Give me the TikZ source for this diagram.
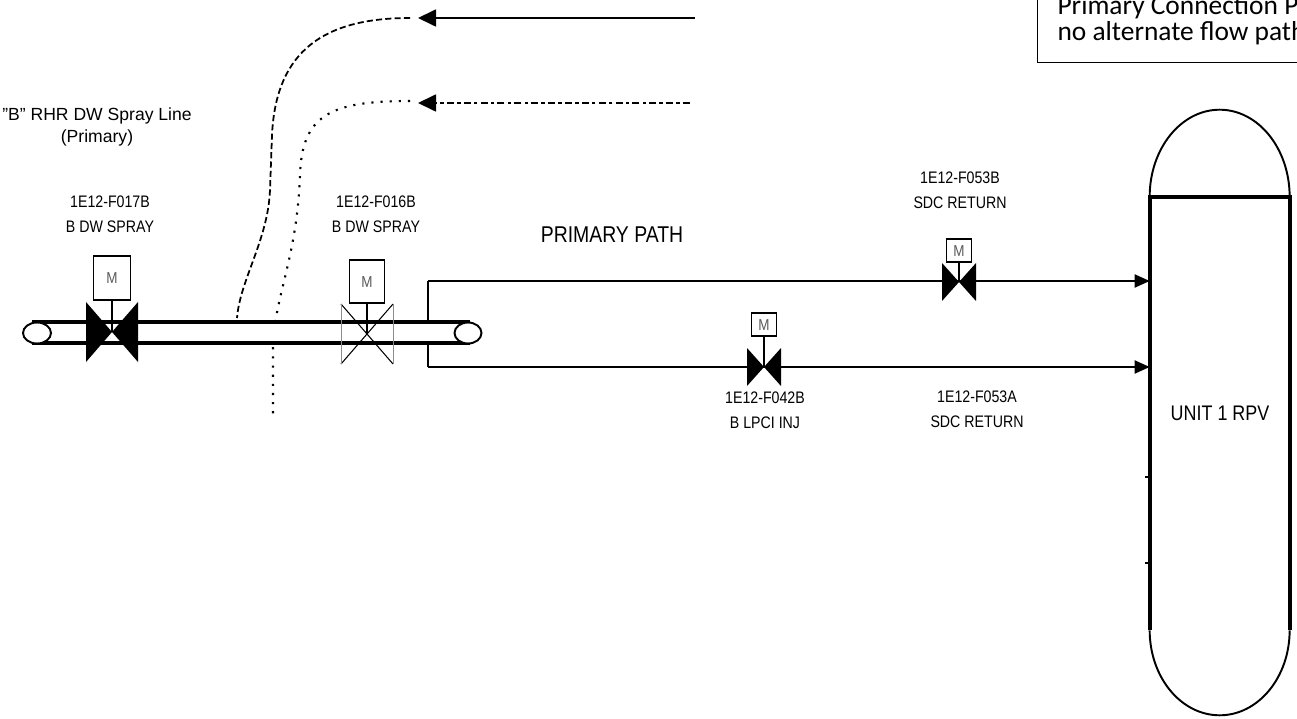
\documentclass[tikz,border=0pt]{standalone}
\usepackage{fontspec}
\setsansfont{Liberation Sans}
\newfontfamily\labfont[FakeStretch=0.85]{Liberation Sans}
\newfontfamily\notefont{Carlito}
\usetikzlibrary{positioning}
\usetikzlibrary{arrows.meta}

\tikzset{
  lbl/.style={font=\labfont\fontsize{9.5}{14.2}\selectfont, align=center, inner sep=0pt},
  motor/.style={draw, rectangle, line width=1pt, inner sep=0pt, font=\labfont\fontsize{9}{10}\selectfont, text=black!65},
  flow/.style={-{Triangle[length=0.3cm, width=0.26cm]}, line width=1.1pt},
  inlet/.style={-{Triangle[length=0.36cm, width=0.34cm]}, line width=1pt},
  pics/vlv/.style args={#1/#2}{code={
    \fill (-#1,-#2) -- (-#1,#2) -- (0,0) -- cycle (#1,-#2) -- (#1,#2) -- (0,0) -- cycle;}},
  pics/vlvopen/.style args={#1/#2}{code={
    \draw[line width=0.6pt] (-#1,-#2) -- (#1,#2) (-#1,#2) -- (#1,-#2);
    \draw[black!45, line width=0.4pt] (-#1,-#2) -- (-#1,#2) (#1,-#2) -- (#1,#2);}},
}

\begin{document}
\begin{tikzpicture}[x=0.02cm, y=-0.02cm]
    \useasboundingbox (0,0) rectangle (1297,719);
    \clip (0,0) rectangle (1297,719);

    % Note box (top right)
    \node (note) [draw, line width=0.6pt, anchor=south west, inner xsep=0.4cm, inner ysep=0.36cm, align=left,
      font=\notefont\fontsize{15.6}{13.2}\selectfont] at (1037,63) {Primary Connection P\\no alternate flow path};

    % Reactor vessel
    \node (rpv) [minimum width=2.8cm, minimum height=8.66cm, font=\labfont\fontsize{12}{14}\selectfont] at (1220,413.5) {UNIT 1 RPV};
    \draw[line width=2.2pt] (rpv.south west) -- (rpv.north west) -- (rpv.north east) -- (rpv.south east);
    \draw[line width=1.1pt] (rpv.north west) arc[start angle=180, end angle=0, x radius=1.4cm, y radius=1.74cm];
    \draw[line width=1.1pt] (rpv.south west) arc[start angle=180, end angle=360, x radius=1.4cm, y radius=1.7cm];
    \draw[line width=1pt] (1145,477) -- (1150,477) (1145,563) -- (1150,563);

    % Loop to the vessel
    \coordinate (t0) at (428,281);
    \coordinate (b0) at (428,367);
    \draw[line width=1.1pt] (t0) -- (b0);
    \draw[flow] (t0) -- (t0 -| rpv.west);
    \draw[flow] (b0) -- (b0 -| rpv.west);

    % Incoming lines (top)
    \coordinate (a1) at (695,18);
    \coordinate (a2) at (418,18);
    \coordinate (c1) at (410,18);
    \coordinate (e1) at (237,318);
    \draw[inlet] (a1) -- (a2);
    \draw[line width=1pt, dash pattern=on 3.5pt off 1.8pt] (c1) .. controls (325,18) and (276,50) .. (272,135)
      -- (270,190) .. controls (268,240) and (240,280) .. (e1);

    \coordinate (a3) at (690,103);
    \coordinate (a4) at (418,103);
    \coordinate (c2) at (410,101);
    \coordinate (e2) at (273,420);
    \draw[inlet, dash pattern=on 4pt off 1.8pt on 2pt off 1.8pt] (a3) -- (a4);
    \draw[line width=1.2pt, dash pattern=on 1.2pt off 4pt] (c2) .. controls (330,101) and (302,115) .. (300,175)
      .. controls (297,260) and (273,300) .. (273,350) -- (e2);

    % Spray pipe
    \fill[white] (37,322) rectangle (468,343);
    \draw[line width=2.3pt] (32,322) -- (470,322) (32,343) -- (470,343);
    \draw[line width=1.1pt, fill=white] (37,333) ellipse [x radius=0.28cm, y radius=0.21cm];
    \draw[line width=1.1pt, fill=white] (468,333) ellipse [x radius=0.27cm, y radius=0.21cm];

    % Valves
    \coordinate (v17) at (112,332);
    \node (m17) [motor, above=0.62cm of v17, minimum width=0.74cm, minimum height=0.88cm] {M};
    \draw[line width=0.8pt] (m17) -- (v17);
    \pic at (v17) {vlv=26/30};

    \coordinate (v16) at (367,334);
    \node (m16) [motor, above=0.6cm of v16, minimum width=0.7cm, minimum height=0.86cm] {M};
    \draw[line width=0.8pt] (m16) -- (v16);
    \pic at (v16) {vlvopen=26/30};

    \coordinate (v42) at (764,367);
    \node (m42) [motor, above=0.6cm of v42, minimum width=0.5cm, minimum height=0.46cm] {M};
    \draw[line width=0.8pt] (m42) -- (v42);
    \pic at (v42) {vlv=17/19};

    \coordinate (v53) at (959,282);
    \node (m53) [motor, above=0.38cm of v53, minimum width=0.5cm, minimum height=0.46cm] {M};
    \draw[line width=0.8pt] (m53) -- (v53);
    \pic at (v53) {vlv=17/19};

    % Labels
    \node (title) [font=\sffamily\fontsize{10}{12.5}\selectfont, align=center, inner sep=0pt] at (97,127) {\symbol{34}B\symbol{34} RHR DW Spray Line\\(Primary)};
    \node (l17) [lbl] at (110,214) {1E12-F017B\\B DW SPRAY};
    \node (l16) [lbl] at (376,214) {1E12-F016B\\B DW SPRAY};
    \node (path) [font=\labfont\fontsize{13}{15}\selectfont, inner sep=0pt] at (612,235) {PRIMARY PATH};
    \node (l53b) [lbl] at (960,190) {1E12-F053B\\SDC RETURN};
    \node (l42) [lbl] at (765,410) {1E12-F042B\\B LPCI INJ};
    \node (l53a) [lbl] at (977,409) {1E12-F053A\\SDC RETURN};
\end{tikzpicture}
\end{document}
